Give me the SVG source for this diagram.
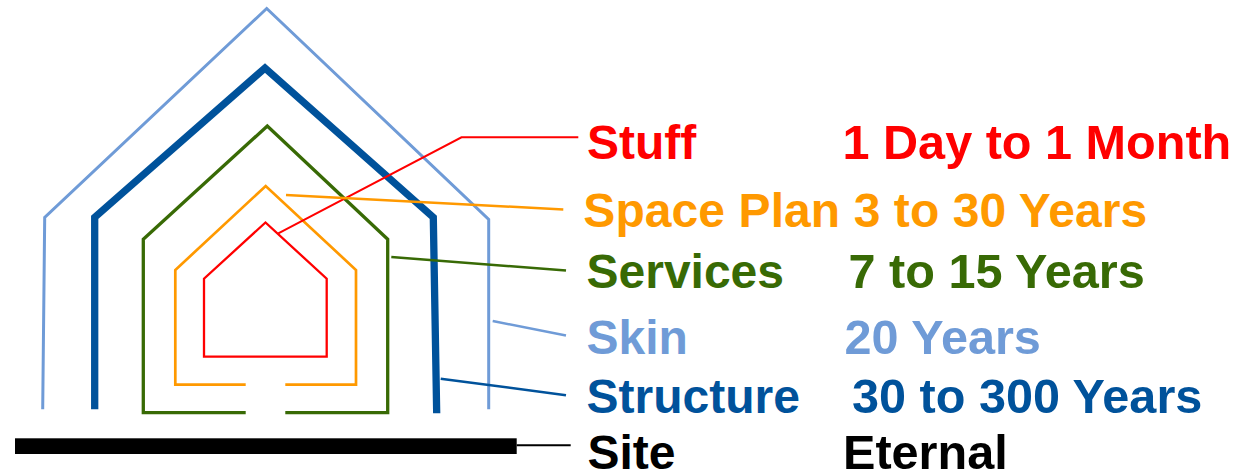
<svg xmlns="http://www.w3.org/2000/svg" width="1244" height="472" viewBox="0 0 1244 472">
<style>
text{font-family:"Liberation Sans",Arial,sans-serif;font-weight:bold;font-size:48px}
text.v{font-size:48.6px}
.o{fill:none;stroke-linejoin:miter;stroke-linecap:butt}
.red{fill:#FF0000}.org{fill:#FF9900}.grn{fill:#386A05}.sky{fill:#6F9BD7}.blu{fill:#00529B}.blk{fill:#000}
</style>
<rect width="1244" height="472" fill="#fff"/>
<g id="skin">
<polyline class="o" points="42.7,409.3 44.7,217.3 266.7,8.5 488.7,219.3 488.7,409.3" stroke="#6F9BD7" stroke-width="3"/>
<text class="sky" x="586.5" y="353.5">Skin</text>
<text class="sky v" x="844.5" y="353.5">20 Years</text>
</g>
<g id="structure">
<polyline class="o" points="94.7,409.3 94.7,217.3 265,68 433.3,217.3 436.7,413.3" stroke="#00529B" stroke-width="7.3"/>
<text class="blu" x="586.5" y="413">Structure</text>
<text class="blu v" x="852" y="413">30 to 300 Years</text>
</g>
<g id="services">
<polyline class="o" points="245.7,412.7 143.3,412.7 143.3,239.3 267.3,126 387.7,239.3 387.7,412.7 285.3,412.7" stroke="#386A05" stroke-width="3.3"/>
<text class="grn" x="586.5" y="288">Services</text>
<text class="grn v" x="848.5" y="288">7 to 15 Years</text>
</g>
<g id="space-plan">
<polyline class="o" points="245.7,384.7 175.3,384.7 175.3,270 265.7,186 356,270 356,384.7 285.3,384.7" stroke="#FF9900" stroke-width="2.7"/>
<text class="org" x="583.3" y="227.3" textLength="564">Space Plan 3 to 30 Years</text>
</g>
<g id="stuff">
<polygon class="o" points="204,356.7 204,278.7 265.5,222.5 326.7,278.7 326.7,356.7" stroke="#FF0000" stroke-width="2.3"/>
<text class="red" x="587" y="158.5">Stuff</text>
<text class="red v" x="842.5" y="158.5">1 Day to 1 Month</text>
</g>
<g id="site">
<rect x="15" y="438.3" width="501.7" height="15.7" fill="#000"/>
<text class="blk" x="587.5" y="469">Site</text>
<text class="blk v" x="843" y="469">Eternal</text>
</g>
<g id="connectors" fill="none">
<polyline points="278.3,233.3 461.5,137.3 578.3,137.3" stroke="#FF0000" stroke-width="2"/>
<line x1="286" y1="195" x2="563.3" y2="209.5" stroke="#FF9900" stroke-width="2.5"/>
<line x1="391.3" y1="257" x2="566" y2="270.5" stroke="#386A05" stroke-width="2.5"/>
<line x1="492.7" y1="321" x2="566" y2="335.5" stroke="#6F9BD7" stroke-width="2.5"/>
<line x1="440.7" y1="378.7" x2="566" y2="395.2" stroke="#00529B" stroke-width="2.5"/>
<line x1="516.7" y1="445.2" x2="570.7" y2="445.2" stroke="#000" stroke-width="2"/>
</g>
</svg>
